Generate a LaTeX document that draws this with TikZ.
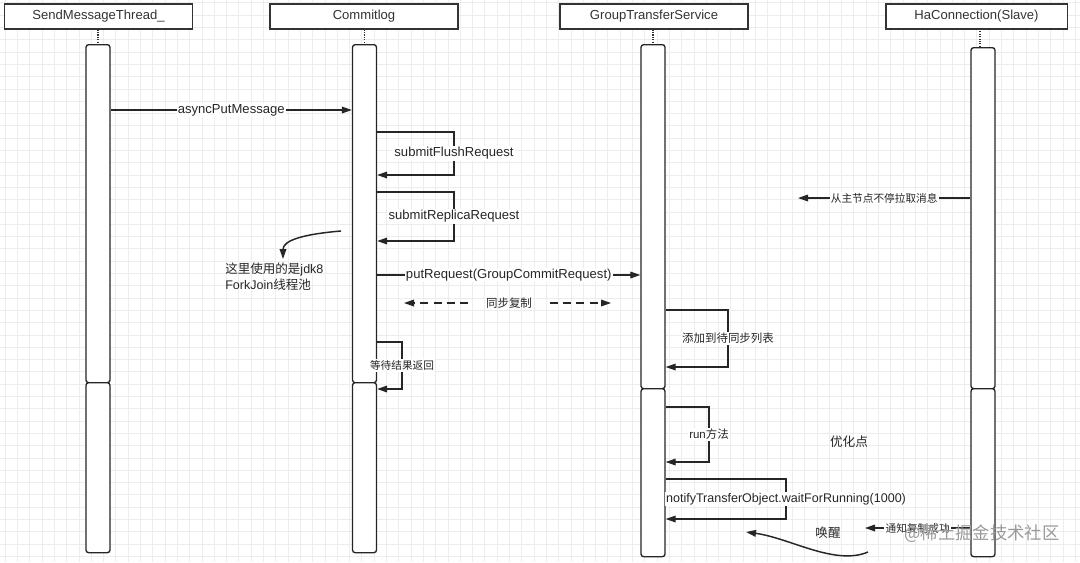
\documentclass[tikz,border=0pt]{standalone}
\usepackage{fontspec}
\setmainfont{Liberation Sans}
\newfontfamily\cjk{Noto Sans CJK SC}
\usetikzlibrary{arrows.meta}
\tikzset{
    head/.style={draw=black!80, line width=1pt, fill=white, minimum width=141pt, minimum height=18.75pt, inner sep=0pt, text=black!80, font=\fontsize{9.8}{11}\selectfont},
    bar/.style={draw=black!85, line width=1pt, fill=white, rounded corners=2pt, minimum width=18pt, inner sep=0pt, anchor=north},
    life/.style={densely dotted, line width=0.8pt, black!80},
    msg/.style={line width=0.9pt, black!85, -{Triangle[length=7.5pt,width=5pt]}},
    lbl/.style={fill=white, inner sep=1pt, text=black!85, font=\fontsize{9.8}{11}\selectfont},
    cjklbl/.style={lbl, font=\cjk\fontsize{8}{10}\selectfont},
    gridline/.style={black!7, line width=0.5pt}
}
\begin{document}
\begin{tikzpicture}[x=0.75pt, y=-0.75pt]
        \useasboundingbox (0,0) rectangle (1080,562);
        \fill[white] (0,0) rectangle (1080,562);
        \foreach \gx in {5.1,17.4,...,1080} \draw[gridline] (\gx,0) -- (\gx,562);
        \foreach \gy in {2.8,15.1,...,562} \draw[gridline] (0,\gy) -- (1080,\gy);

        \node[head] (hsend) at (98.5,16.5) {SendMessageThread\_};
        \node[head] (hcl) at (364,16.5) {Commitlog};
        \node[head] (hgts) at (654,16.5) {GroupTransferService};
        \node[head, minimum width=136pt] (hha) at (976.5,16.5) {HaConnection(Slave)};

        \node[bar, minimum height=253.5pt] (send1) at (98,44) {};
        \node[bar, minimum height=127.5pt] (send2) at (98,382) {};
        \node[bar, minimum height=253.5pt] (cl1) at (364.5,44) {};
        \node[bar, minimum height=127.5pt] (cl2) at (364.5,382) {};
        \node[bar, minimum height=258pt] (gts1) at (653,44) {};
        \node[bar, minimum height=126pt] (gts2) at (653,388) {};
        \node[bar, minimum height=255.75pt] (ha1) at (983,47) {};
        \node[bar, minimum height=126pt] (ha2) at (983,388) {};

        \draw[life] (send1.north |- hsend.south) -- (send1.north);
        \draw[life] (cl1.north |- hcl.south) -- (cl1.north);
        \draw[life] (gts1.north |- hgts.south) -- (gts1.north);
        \draw[life] (980,29) -- (980,47);

        \draw[msg] (send1.east |- 0,110) -- node[lbl] (mAsync) {asyncPutMessage} (cl1.west |- 0,110);
        \draw[msg] (cl1.east |- 0,132) -| node[lbl, pos=0.75] (mFlush) {submitFlushRequest} (454,175) -- (cl1.east |- 0,175);
        \draw[msg] (cl1.east |- 0,192) -| node[lbl, pos=0.75] (mReplica) {submitReplicaRequest} (454,241) -- (cl1.east |- 0,241);
        \draw[msg] (cl1.east |- 0,275) -- node[lbl] (mPut) {putRequest(GroupCommitRequest)} (gts1.west |- 0,275);

        \node[cjklbl, fill=none, font=\cjk\fontsize{8.6}{10}\selectfont] (mSync) at (509,303) {同步复制};
        \coordinate (syncL) at (404,303);
        \coordinate (syncR) at (611,303);
        \draw[msg, dash pattern=on 6pt off 4pt] ([xshift=-12pt]mSync.west) -- (syncL);
        \draw[msg, dash pattern=on 6pt off 4pt] ([xshift=12pt]mSync.east) -- (syncR);

        \node[anchor=north west, align=left, inner sep=0pt, text=black!85, font=\fontsize{9.4}{12}\selectfont] (note) at (225,263) {{\cjk 这里使用的是}jdk8\\ForkJoin{\cjk 线程池}};
        \coordinate (forkA) at (341,231);
        \coordinate (forkB) at (283,259);
        \draw[msg, line width=1.1pt] (forkA) .. controls (305,234) and (283,240) .. (forkB);

        \draw[msg] (cl1.east |- 0,342) -| node[cjklbl, pos=0.75] (mWait) {等待结果返回} (402,389) -- (cl2.east |- 0,389);

        \draw[msg] (gts1.east |- 0,310) -| node[cjklbl, pos=0.75, font=\cjk\fontsize{8.6}{10}\selectfont] (mAdd) {添加到待同步列表} (728,367) -- (gts1.east |- 0,367);
        \draw[msg] (gts2.east |- 0,407) -| node[lbl, pos=0.75, font=\fontsize{8.6}{10}\selectfont] (mRun) {run{\cjk 方法}} (709,462) -- (gts2.east |- 0,462);
        \draw[msg] (gts2.east |- 0,479) -| node[lbl, pos=0.75, font=\fontsize{9.4}{11}\selectfont] (mNotifyObj) {notifyTransferObject.waitForRunning(1000)} (786,519) -- (gts2.east |- 0,519);

        \node[text=black!85, font=\cjk\fontsize{9.5}{11}\selectfont] (opt) at (849,442) {优化点};

        \coordinate (pullEnd) at (798,198);
        \draw[msg] (ha1.west |- 0,198) -- node[cjklbl] (mPull) {从主节点不停拉取消息} (pullEnd);

        \coordinate (notifyEnd) at (865,528);
        \draw[msg] (ha2.west |- 0,528) -- node[cjklbl] (mNotify) {通知复制成功} (notifyEnd);

        \node[text=black!85, font=\cjk\fontsize{9.4}{11}\selectfont] (wake) at (828,533) {唤醒};
        \coordinate (wakeA) at (868,552);
        \coordinate (wakeB) at (746,532);
        \draw[msg, line width=1.1pt] (wakeA) .. controls (835,566) and (790,538) .. (wakeB);

        \node[text=black!40, font=\cjk\fontsize{13}{15}\selectfont] (mark) at (982,534) {@稀土掘金技术社区};
\end{tikzpicture}
\end{document}
